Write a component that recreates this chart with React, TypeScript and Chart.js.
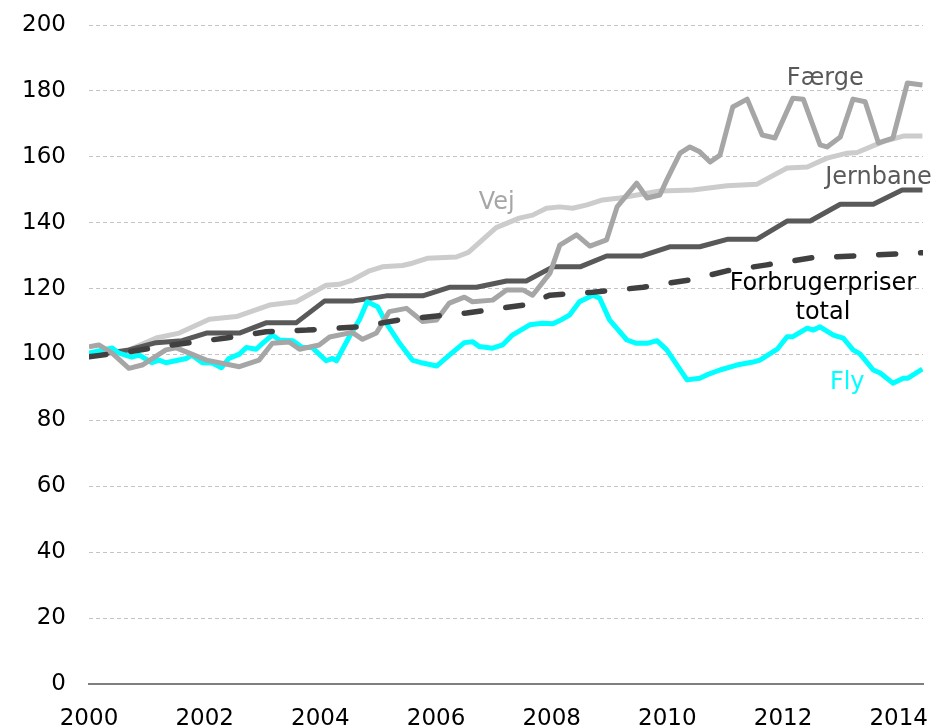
import React, { useEffect, useRef } from "react";
import { Chart, registerables } from "chart.js";

Chart.register(...registerables);

// ---- Data (decimal years, index 2000 = 100) ----
const vejYears = [2000.0, 2000.64, 2001.16, 2001.56, 2002.08, 2002.55, 2003.12, 2003.58, 2004.1, 2004.33, 2004.55, 2004.85, 2005.07, 2005.42, 2005.59, 2005.85, 2006.35, 2006.56, 2007.04, 2007.44, 2007.67, 2007.91, 2008.14, 2008.36, 2008.61, 2008.88, 2009.18, 2009.87, 2010.44, 2011.03, 2011.55, 2012.07, 2012.42, 2012.76, 2013.11, 2013.28, 2013.73, 2014.08, 2014.41];
const vejValues = [100, 101, 105, 106.5, 110.7, 111.5, 115, 116, 121, 121.3, 122.6, 125.4, 126.6, 127, 127.7, 129.2, 129.6, 131, 138.5, 141.4, 142.3, 144.4, 144.8, 144.4, 145.4, 146.9, 147.5, 149.6, 149.9, 151.2, 151.7, 156.6, 156.9, 159.6, 161.1, 161.3, 164.6, 166.3, 166.3];

const jernbaneYears = [2000.0, 2000.69, 2001.16, 2001.61, 2002.03, 2002.6, 2003.06, 2003.58, 2004.07, 2004.55, 2005.14, 2005.77, 2006.23, 2006.7, 2007.22, 2007.56, 2008.02, 2008.49, 2008.95, 2009.56, 2010.04, 2010.56, 2011.05, 2011.55, 2012.07, 2012.47, 2012.99, 2013.56, 2014.06, 2014.41];
const jernbaneValues = [99.5, 101.4, 103.6, 104.2, 106.5, 106.5, 109.6, 109.6, 116.2, 116.2, 117.8, 117.8, 120.4, 120.4, 122.3, 122.3, 126.6, 126.6, 129.9, 129.9, 132.7, 132.7, 135, 135, 140.5, 140.5, 145.6, 145.6, 149.9, 149.9];

const forbrugerYears = [2000.0, 2000.75, 2001.44, 2002.37, 2003.06, 2003.77, 2004.68, 2005.37, 2006.53, 2007.52, 2007.97, 2008.71, 2009.58, 2010.44, 2011.03, 2011.72, 2012.52, 2013.33, 2014.15, 2014.41];
const forbrugerValues = [99.3, 101, 102.9, 105, 106.9, 107.4, 108.4, 110.5, 112.6, 115, 118, 118.9, 120.4, 122.8, 125.4, 127.2, 129.4, 130, 130.7, 130.9];

const faergeYears = [2000.0, 2000.17, 2000.4, 2000.69, 2000.92, 2001.33, 2001.51, 2002.03, 2002.6, 2002.94, 2003.17, 2003.46, 2003.64, 2003.98, 2004.16, 2004.55, 2004.73, 2004.97, 2005.19, 2005.49, 2005.77, 2006.01, 2006.23, 2006.49, 2006.63, 2006.98, 2007.22, 2007.5, 2007.67, 2007.97, 2008.14, 2008.43, 2008.66, 2008.95, 2009.13, 2009.47, 2009.65, 2009.87, 2009.99, 2010.22, 2010.39, 2010.56, 2010.74, 2010.91, 2011.13, 2011.38, 2011.64, 2011.86, 2012.17, 2012.35, 2012.64, 2012.76, 2012.99, 2013.21, 2013.42, 2013.65, 2013.9, 2014.15, 2014.41];
const faergeValues = [102.3, 102.9, 100.4, 95.8, 96.8, 101.4, 102, 98.3, 96.3, 98.3, 103.4, 103.8, 101.6, 102.9, 105.3, 106.7, 104.6, 106.5, 113, 114, 110, 110.5, 115.6, 117.4, 116, 116.5, 119.6, 119.6, 118, 124.7, 133.2, 136.3, 132.9, 134.8, 144.8, 152, 147.5, 148.4, 153, 161.1, 163, 161.5, 158.4, 160.5, 175.1, 177.5, 166.6, 165.7, 177.8, 177.5, 163.6, 163, 166, 177.5, 176.7, 164.2, 165.7, 182.4, 181.8];

const flyYears = [2000.0, 2000.4, 2000.52, 2000.74, 2000.87, 2001.09, 2001.21, 2001.33, 2001.68, 2001.78, 2001.96, 2002.13, 2002.29, 2002.42, 2002.6, 2002.72, 2002.89, 2003.0, 2003.17, 2003.29, 2003.52, 2003.69, 2003.86, 2004.1, 2004.21, 2004.28, 2004.5, 2004.68, 2004.81, 2004.99, 2005.14, 2005.37, 2005.59, 2005.77, 2006.01, 2006.23, 2006.49, 2006.63, 2006.75, 2006.98, 2007.15, 2007.32, 2007.62, 2007.84, 2008.02, 2008.14, 2008.31, 2008.48, 2008.71, 2008.83, 2009.0, 2009.3, 2009.47, 2009.65, 2009.82, 2009.99, 2010.34, 2010.56, 2010.68, 2010.91, 2011.2, 2011.48, 2011.6, 2011.9, 2012.07, 2012.17, 2012.42, 2012.52, 2012.64, 2012.87, 2013.04, 2013.21, 2013.33, 2013.56, 2013.68, 2013.9, 2014.08, 2014.16, 2014.41];
const flyValues = [100.4, 102, 100.4, 99.2, 99.8, 97.5, 98.3, 97.5, 98.8, 99.8, 97.5, 97.4, 96, 98.8, 100.1, 102.1, 101.6, 103.4, 105.9, 104.4, 104.2, 102.1, 102.1, 98.1, 98.8, 98.1, 105.4, 110.7, 116, 114.5, 109.5, 103.4, 98.3, 97.4, 96.5, 99.8, 103.6, 103.9, 102.4, 101.9, 102.9, 105.9, 109, 109.5, 109.3, 110.3, 112, 116, 118, 117.1, 110.5, 104.4, 103.4, 103.4, 104.2, 101.4, 92.3, 92.8, 93.8, 95.3, 96.8, 97.7, 98.3, 101.6, 105.4, 105.4, 108, 107.4, 108.4, 105.9, 105, 101.4, 100.2, 95.3, 94.4, 91.3, 92.8, 92.8, 95.6];

const xTickLabels = [2000, 2002, 2004, 2006, 2008, 2010, 2012, 2014];
const yTickLabels = [0, 20, 40, 60, 80, 100, 120, 140, 160, 180, 200];

// Series annotations (text, data position)
const seriesLabels = [
  { lines: ["Færge"], x: 2012.73, y: 183.6, color: "#595959" },
  { lines: ["Vej"], x: 2007.05, y: 146, color: "#a6a6a6" },
  { lines: ["Jernbane"], x: 2013.65, y: 153.6, color: "#595959" },
  { lines: ["Forbrugerpriser", "total"], x: 2012.69, y: 121.4, color: "#000000" },
  { lines: ["Fly"], x: 2013.11, y: 91.4, color: "#00ffff" },
];

const toPoints = (xs: number[], ys: number[]) => xs.map((x, i) => ({ x, y: ys[i] }));

const FONT = "'DejaVu Sans', Verdana, sans-serif";

const labelPlugin = {
  id: "seriesLabels",
  afterDatasetsDraw(chart: any) {
    const { ctx, scales } = chart;
    ctx.save();
    ctx.font = `24px ${FONT}`;
    ctx.textAlign = "center";
    ctx.textBaseline = "middle";
    for (const l of seriesLabels) {
      const px = scales.x.getPixelForValue(l.x);
      const py = scales.y.getPixelForValue(l.y);
      ctx.fillStyle = l.color;
      l.lines.forEach((t, i) => ctx.fillText(t, px, py + i * 29));
    }
    ctx.restore();
  },
};

export default function App() {
  const ref = useRef<HTMLCanvasElement>(null);
  useEffect(() => {
    document.body.style.margin = "0";
    const canvas = ref.current!;
    const common = { pointRadius: 0, borderWidth: 5, fill: false, tension: 0, borderJoinStyle: "round" as const };
    const chart = new Chart(canvas, {
      type: "line",
      data: {
        datasets: [
          { ...common, label: "Forbrugerpriser total", data: toPoints(forbrugerYears, forbrugerValues), borderColor: "#404040", borderWidth: 5.5, borderDash: [17, 25], borderCapStyle: "round", order: 0 },
          { ...common, label: "Færge", data: toPoints(faergeYears, faergeValues), borderColor: "#a6a6a6", order: 1 },
          { ...common, label: "Fly", data: toPoints(flyYears, flyValues), borderColor: "#00ffff", order: 2 },
          { ...common, label: "Jernbane", data: toPoints(jernbaneYears, jernbaneValues), borderColor: "#595959", order: 3 },
          { ...common, label: "Vej", data: toPoints(vejYears, vejValues), borderColor: "#cccccc", order: 4 },
        ],
      },
      options: {
        responsive: false,
        animation: false,
        events: [],
        layout: { padding: { left: 20, right: 10, top: 25, bottom: 0 } },
        plugins: { legend: { display: false }, tooltip: { enabled: false } },
        scales: {
          x: {
            type: "linear",
            min: 2000,
            max: 2014.42,
            afterBuildTicks: (axis: any) => { axis.ticks = xTickLabels.map((v) => ({ value: v })); },
            afterFit: (scale: any) => { scale.height = 44; scale.paddingLeft = 0; scale.paddingRight = 0; },
            ticks: { autoSkip: false, maxRotation: 0, padding: 21, color: "#000", font: { family: FONT, size: 23 }, callback: (v: any) => String(v) },
            grid: { display: false, drawTicks: false },
            border: { display: true, color: "#7f7f7f", width: 2 },
          },
          y: {
            min: 0,
            max: 200,
            afterBuildTicks: (axis: any) => { axis.ticks = yTickLabels.map((v) => ({ value: v })); },
            afterFit: (scale: any) => { scale.width = 69; scale.paddingTop = 0; scale.paddingBottom = 0; },
            ticks: { autoSkip: false, padding: 23, color: "#000", font: { family: FONT, size: 23 }, callback: (v: any) => String(v) },
            grid: {
              drawTicks: false,
              color: (c: any) => (c.tick && c.tick.value === 0 ? "rgba(0,0,0,0)" : "#c4c4c4"),
              lineWidth: 1,
            },
            border: { display: false, dash: [4, 3] },
          },
        },
      },
      plugins: [labelPlugin],
    } as any);
    return () => chart.destroy();
  }, []);
  return <canvas ref={ref} width={933} height={728} style={{ display: "block" }} />;
}
